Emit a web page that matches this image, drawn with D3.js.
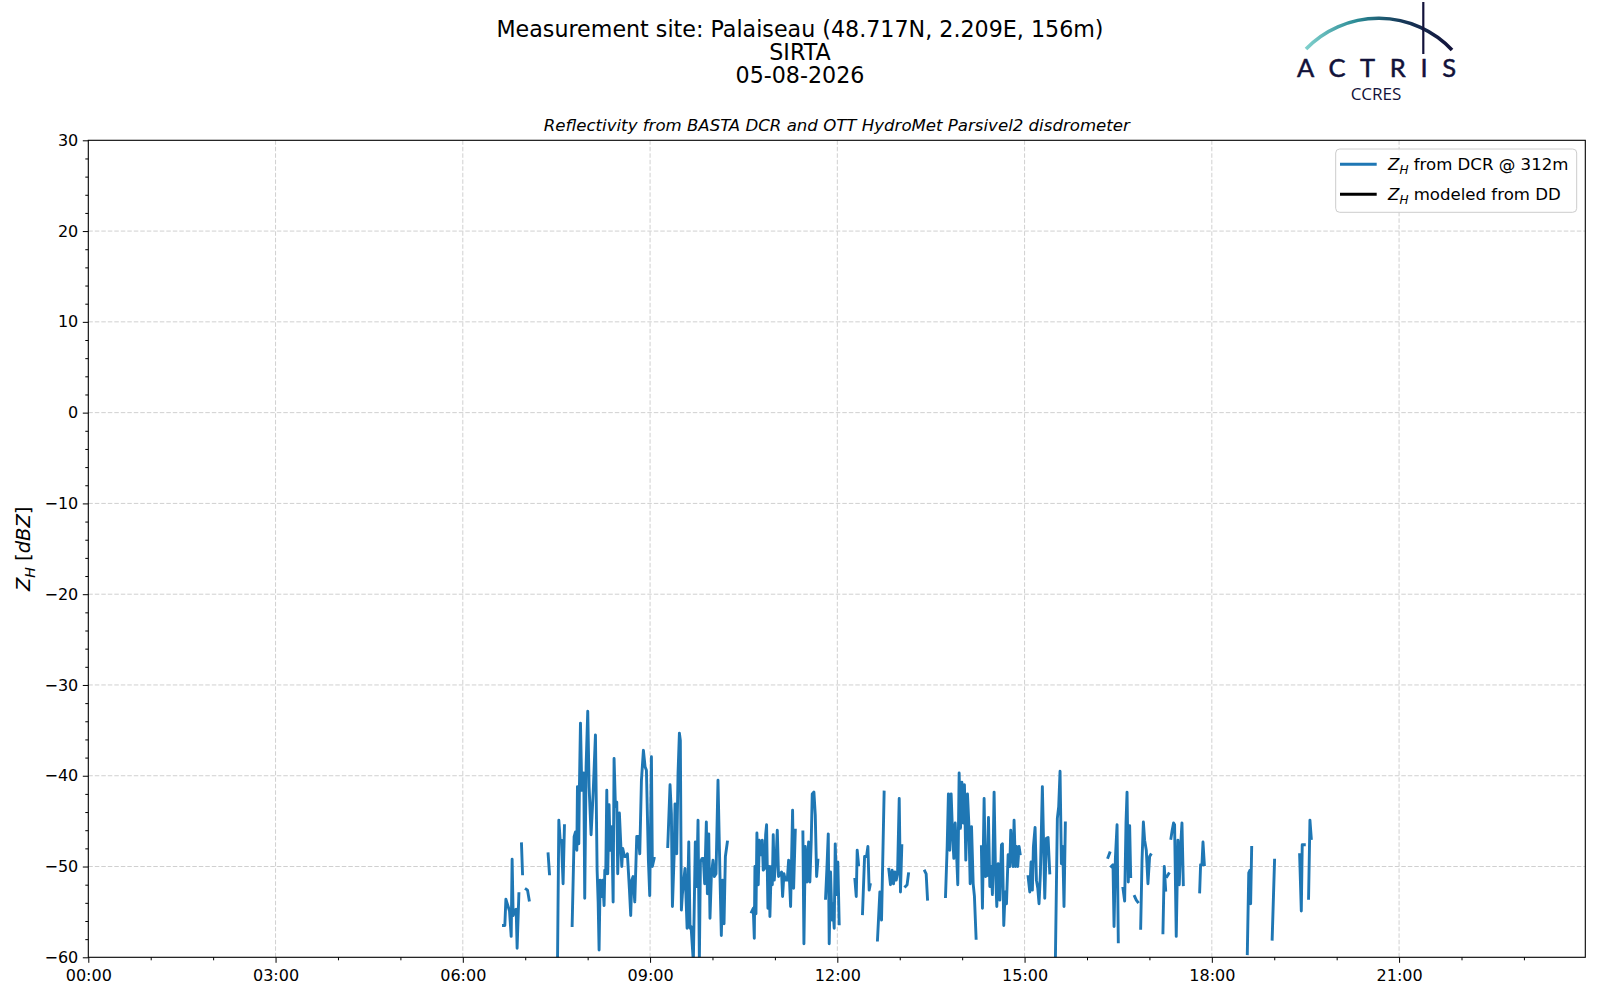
<!DOCTYPE html>
<html>
<head>
<meta charset="utf-8">
<script src="https://cdn.jsdelivr.net/npm/d3@7"></script>
<style>
  html, body { margin: 0; padding: 0; background: #ffffff; }
  svg { display: block; font-family: "DejaVu Sans", sans-serif; }
</style>
</head>
<body>
<svg id="chart" width="1600" height="1000"></svg>
<script>
// ---------------- DATA ----------------
const titleLines = ["Measurement site: Palaiseau (48.717N, 2.209E, 156m)", "SIRTA", "05-08-2026"];
const subtitle = "Reflectivity from BASTA DCR and OTT HydroMet Parsivel2 disdrometer";
const yDomain = [-60, 30];
const xDomainMin = [0, 1439];               // minutes since 00:00
const xTickMinutes = [0, 180, 360, 540, 720, 900, 1080, 1260];
const xTickLabels = ["00:00", "03:00", "06:00", "09:00", "12:00", "15:00", "18:00", "21:00"];
const yTickValues = [-60, -50, -40, -30, -20, -10, 0, 10, 20, 30];
const legendLabels = [["from DCR @ 312m"], ["modeled from DD"]];

// Z_H from DCR: time (minutes since midnight) and value (dBZ); null = gap
const timeMin = [
 399.1,400.4,401.4,404.9,406.5,407.4,408.4,410.0,411.3,412.2,413.9, null,
 416.4,417.4, null,
 420.9,422.2,423.8, null,
 442.0,443.3, null,
 451.0,452.3,453.6,454.8,456.4,457.7, null,
 465.1,467.0,468.3,469.6,470.2,471.5,472.1,473.1,474.4,475.3,476.3,477.2,478.5,480.1,481.4,483.3,485.3,487.5,489.1,490.1,491.0,492.0,493.3,494.5,495.8,496.5,497.4,498.4,499.3,500.6,501.6,503.2,504.5,505.4,506.7,508.0,508.9,510.5,512.8,513.7,515.4,517.0,518.2,520.2,521.4,522.4,523.7,525.3,527.2,528.8,530.1,531.7,533.6,535.2,536.5,538.4,539.7,541.3,542.2,543.9, null,
 557.0,559.2,560.5,561.5,563.1,564.0,565.6,566.9,568.2,569.1,570.1,571.1,573.6,575.6,577.2,578.4,579.4,581.6,583.5,584.8,586.1,587.4,588.4,590.0,591.2,592.5,594.1,595.1,596.4,597.6,598.9,600.5,601.8,603.4,605.3,607.3,608.5,609.8,611.1,612.4,614.3, null,
 637.6,639.2,640.2,640.8,641.8,642.7,644.0,645.0,646.6,647.9,648.8,650.1,651.1,652.0,653.3,654.3,655.2,656.5,657.5,658.4,659.4,660.4,661.3,662.3,663.5,664.8,666.4,667.4,668.7,670.0,671.9,673.2,675.1,677.0,678.0,679.6, null,
 686.9,687.9,689.2,690.8,692.4,693.6,694.9,695.9,697.5,698.8,700.1,701.3, null,
 708.7,710.0,711.3,712.2,713.5,714.8,715.7,717.0,718.0,719.3,720.5,721.8, null,
 736.9,738.2,739.1,740.4, null,
 744.2,746.2,748.1,749.4,750.6,751.6, null,
 758.6,760.9,762.5,765.0, null,
 769.5,771.1,772.7,774.0,775.3,776.6,777.9,779.5,780.7,782.0, null,
 785.5,787.1,788.4, null,
 804.1,805.4,806.7, null,
 824.0,825.6,826.8,828.1,829.4,830.7,832.0,833.3,834.5,835.8,837.1,838.4,839.7,841.0,842.2,843.5,845.1,846.4,847.7,849.0,850.6,851.8,853.4, null,
 858.5,859.5,861.1,862.4,864.0,865.3,866.6,867.8,869.1,870.7,872.0,873.3,874.6,876.2,877.8,878.7,880.0,881.3,882.6,884.2,885.8,886.7,887.7,889.0,889.9,891.2,892.2,893.4,894.7,895.7, null,
 903.4,905.0,906.2,907.5,908.5,910.1,911.4,912.7,913.9,915.2,917.1,919.4,921.0,922.6,924.2, null,
 929.6,931.5,932.8,934.1,935.4,936.7,937.9,939.2, null,
 980.2,981.8, null,
 983.4,985.0,986.0,987.3,988.9,990.1, null,
 994.6,996.2,997.5,998.5,999.7,1001.0,1002.0, null,
 1005.8,1007.4,1008.7, null,
 1011.6,1012.9,1014.2,1015.4,1017.0,1018.6,1020.2,1021.2, null,
 1033.0,1034.3,1035.6, null,
 1036.9,1038.5, null,
 1040.7,1041.9,1043.2,1044.2,1045.8,1047.4,1048.7,1050.0,1051.3,1052.6, null,
 1068.3,1069.2,1070.5,1071.5,1072.8, null,
 1114.1,1115.5,1116.7,1117.3,1118.3, null,
 1138.0,1140.3, null,
 1164.4,1166.0,1166.9,1168.9, null,
 1173.0,1174.3,1175.6
];
const zhDcr = [
 -56.5,-56.5,-53.6,-54.9,-57.7,-49.2,-55.4,-54.8,-54.7,-59.0,-53.0, null,
 -47.5,-50.8, null,
 -52.5,-52.6,-53.7, null,
 -48.6,-50.8, null,
 -61.0,-44.9,-47.1,-47.1,-51.9,-45.5, null,
 -56.5,-46.7,-46.2,-48.2,-41.2,-47.5,-41.2,-34.2,-41.6,-41.6,-39.7,-53.5,-39.0,-32.9,-41.2,-46.5,-41.9,-35.5,-50.4,-53.9,-59.2,-51.5,-53.3,-51.5,-54.3,-50.4,-50.8,-41.6,-50.8,-43.2,-48.2,-45.6,-53.9,-38.1,-43.4,-42.9,-50.8,-44.1,-50.0,-48.0,-48.9,-48.9,-48.6,-52.6,-55.4,-51.5,-51.1,-53.9,-46.7,-46.7,-48.6,-40.5,-37.2,-39.0,-39.4,-49.3,-53.2,-37.9,-50.0,-49.1, null,
 -47.8,-41.0,-44.2,-54.4,-48.9,-43.1,-48.6,-39.7,-35.3,-36.1,-54.8,-53.0,-50.2,-56.8,-47.3,-56.8,-56.6,-60.5,-47.3,-52.2,-44.9,-60.3,-49.5,-49.1,-49.1,-51.9,-45.1,-53.0,-46.4,-55.7,-51.1,-49.3,-51.1,-50.8,-40.5,-51.5,-57.6,-51.5,-56.3,-48.9,-47.3, null,
 -55.0,-54.6,-57.9,-50.0,-55.2,-46.3,-52.0,-47.1,-48.7,-47.1,-50.4,-50.2,-46.5,-45.4,-54.6,-50.0,-55.5,-50.0,-52.0,-46.5,-51.5,-50.0,-48.7,-46.0,-51.1,-50.9,-50.6,-53.3,-50.8,-51.5,-51.5,-49.3,-54.4,-43.8,-52.4,-46.0, null,
 -46.2,-58.5,-47.8,-51.7,-47.3,-51.7,-47.3,-42.0,-41.8,-44.3,-51.1,-49.3, null,
 -53.5,-50.2,-46.4,-58.5,-50.6,-55.9,-54.1,-56.8,-47.5,-53.1,-49.5,-56.3, null,
 -51.4,-53.3,-48.2,-49.8, null,
 -55.2,-48.9,-48.9,-47.8,-52.6,-52.0, null,
 -58.1,-52.8,-55.9,-41.8, null,
 -50.3,-52.0,-50.4,-51.9,-50.6,-51.5,-50.8,-42.5,-52.8,-47.7, null,
 -52.2,-52.0,-50.8, null,
 -50.5,-50.8,-53.6, null,
 -53.3,-47.8,-42.0,-48.2,-42.0,-46.2,-49.1,-45.2,-48.2,-52.0,-39.7,-45.8,-40.7,-45.2,-41.0,-49.3,-42.0,-45.2,-51.9,-45.6,-51.9,-53.3,-57.9, null,
 -47.8,-54.6,-42.5,-51.1,-51.0,-44.6,-52.2,-50.0,-53.1,-41.8,-50.4,-54.4,-49.7,-53.7,-47.6,-47.5,-56.5,-52.8,-54.1,-48.7,-50.0,-46.0,-48.2,-50.0,-44.9,-50.0,-47.8,-50.0,-47.8,-48.6, null,
 -51.1,-52.8,-49.5,-52.6,-47.8,-45.7,-51.5,-52.4,-54.1,-50.8,-41.2,-53.5,-46.9,-46.8,-50.7, null,
 -60.5,-44.7,-43.4,-39.5,-49.7,-47.8,-54.4,-45.2, null,
 -49.0,-48.5, null,
 -50.0,-49.8,-56.6,-49.1,-45.4,-58.3, null,
 -52.4,-53.8,-45.2,-41.8,-51.7,-45.5,-51.1, null,
 -53.3,-53.7,-53.9, null,
 -56.8,-49.3,-45.1,-47.1,-48.2,-51.9,-48.9,-48.7, null,
 -57.3,-50.0,-52.6, null,
 -51.1,-50.8, null,
 -46.9,-46.0,-45.2,-45.4,-57.7,-47.1,-52.0,-47.8,-45.2,-52.0, null,
 -52.8,-49.8,-49.8,-47.3,-49.8, null,
 -59.6,-50.7,-50.4,-54.1,-47.9, null,
 -58.0,-49.3, null,
 -48.7,-54.9,-47.6,-47.6, null,
 -53.5,-44.9,-46.9
];
// Z_H modeled from disdrometer (no valid points on this day)
const timeDD = [];
const zhDD = [];

// ---------------- LAYOUT ----------------
const svg = d3.select("#chart");
const pLeft = 88.3, pRight = 1585.3, pTop = 140.3, pBottom = 957.3;
const x = d3.scaleLinear().domain(xDomainMin).range([pLeft, pRight]);
const y = d3.scaleLinear().domain(yDomain).range([pBottom, pTop]);
const tickFont = 16;

svg.append("rect").attr("width", 1600).attr("height", 1000).attr("fill", "#fff");

// Titles
svg.append("g").selectAll("text").data(titleLines).join("text")
  .attr("x", 800).attr("y", (d, i) => 36.7 + i * 23)
  .attr("text-anchor", "middle").attr("font-size", 22.2).attr("fill", "#000")
  .text(d => d);

svg.append("text").attr("x", (pLeft + pRight) / 2).attr("y", 130.5)
  .attr("text-anchor", "middle").attr("font-size", 16.6).attr("font-style", "italic")
  .text(subtitle);

// Grid
const grid = svg.append("g").attr("stroke", "#d0d0d0").attr("stroke-width", 1).attr("stroke-dasharray", "4.5,2");
grid.selectAll(".gx").data(xTickMinutes.slice(1)).join("line")
  .attr("x1", d => x(d)).attr("x2", d => x(d)).attr("y1", pTop).attr("y2", pBottom);
grid.selectAll(".gy").data(yTickValues.slice(1, -1)).join("line")
  .attr("x1", pLeft).attr("x2", pRight).attr("y1", d => y(d)).attr("y2", d => y(d));

// Data line
svg.append("clipPath").attr("id", "clip").append("rect")
  .attr("x", pLeft).attr("y", pTop).attr("width", pRight - pLeft).attr("height", pBottom - pTop);
const pts = timeMin.map((t, i) => [t, zhDcr[i]]);
const line = d3.line().defined(d => d[0] != null && d[1] != null).x(d => x(d[0])).y(d => y(d[1]));
svg.append("path").datum(pts).attr("clip-path", "url(#clip)")
  .attr("fill", "none").attr("stroke", "#1f77b4").attr("stroke-width", 2.9)
  .attr("stroke-linejoin", "round").attr("stroke-linecap", "square").attr("d", line);
svg.append("path").datum(timeDD.map((t, i) => [t, zhDD[i]])).attr("clip-path", "url(#clip)")
  .attr("fill", "none").attr("stroke", "#000").attr("stroke-width", 2.9).attr("d", line);

// Axes
const fmtMinus = v => (v < 0 ? "\u2212" + Math.abs(v) : String(v));
const xAxis = d3.axisBottom(x).tickValues(xTickMinutes).tickFormat((d, i) => xTickLabels[i]).tickSize(5.5).tickPadding(6.5);
const xMinor = d3.axisBottom(x).tickValues(d3.range(60, 1440, 60).filter(m => m % 180 !== 0)).tickFormat("").tickSize(3);
const yAxis = d3.axisLeft(y).tickValues(yTickValues).tickFormat(fmtMinus).tickSize(5.5).tickPadding(4.5);
const yMinor = d3.axisLeft(y).tickValues(d3.range(-58, 30, 2).filter(v => v % 10 !== 0)).tickFormat("").tickSize(3);

function styleAxis(g) {
  g.select(".domain").remove();
  g.selectAll("line").attr("stroke", "#000").attr("stroke-width", 1);
  g.selectAll("text").attr("font-size", tickFont).attr("font-family", "DejaVu Sans").attr("fill", "#000");
}
svg.append("g").attr("transform", `translate(0,${pBottom})`).call(xAxis).call(styleAxis);
svg.append("g").attr("transform", `translate(0,${pBottom})`).call(xMinor).call(styleAxis);
svg.append("g").attr("transform", `translate(${pLeft},0)`).call(yAxis).call(styleAxis);
svg.append("g").attr("transform", `translate(${pLeft},0)`).call(yMinor).call(styleAxis);

// Frame
svg.append("rect").attr("x", pLeft).attr("y", pTop).attr("width", pRight - pLeft).attr("height", pBottom - pTop)
  .attr("fill", "none").attr("stroke", "#000").attr("stroke-width", 1.1);

// Y label
const yl = svg.append("text").attr("transform", `translate(30,${(pTop + pBottom) / 2}) rotate(-90)`)
  .attr("text-anchor", "middle").attr("font-size", 19.5);
yl.append("tspan").attr("font-style", "italic").text("Z");
yl.append("tspan").attr("font-style", "italic").attr("font-size", 14).attr("dy", 4.5).text("H");
yl.append("tspan").attr("dy", -4.5).text(" [");
yl.append("tspan").attr("font-style", "italic").text("dBZ");
yl.append("tspan").text("]");

// Legend
const lg = svg.append("g");
lg.append("rect").attr("x", 1335.7).attr("y", 149).attr("width", 241).attr("height", 63.3)
  .attr("rx", 4).attr("fill", "#fff").attr("fill-opacity", 0.8).attr("stroke", "#cccccc").attr("stroke-width", 1);
const legendColors = ["#1f77b4", "#000000"];
legendLabels.forEach((lab, i) => {
  const ly = 164.3 + i * 30;
  lg.append("line").attr("x1", 1340).attr("x2", 1376.7).attr("y1", ly).attr("y2", ly)
    .attr("stroke", legendColors[i]).attr("stroke-width", 2.9);
  const t = lg.append("text").attr("x", 1388).attr("y", ly + 5.8).attr("font-size", 16.6);
  t.append("tspan").attr("font-style", "italic").text("Z");
  t.append("tspan").attr("font-style", "italic").attr("font-size", 12).attr("dy", 3.8).text("H");
  t.append("tspan").attr("dy", -3.8).text(" " + lab[0]);
});

// Logo
const defs = svg.append("defs");
const grad = defs.append("linearGradient").attr("id", "arcGrad").attr("gradientUnits", "userSpaceOnUse")
  .attr("x1", 1306).attr("y1", 0).attr("x2", 1452).attr("y2", 0);
grad.append("stop").attr("offset", "0%").attr("stop-color", "#7fd0cc");
grad.append("stop").attr("offset", "35%").attr("stop-color", "#2a8a95");
grad.append("stop").attr("offset", "65%").attr("stop-color", "#173a5a");
grad.append("stop").attr("offset", "100%").attr("stop-color", "#12123a");
svg.append("path").attr("d", "M1306,49 A101,101 0 0 1 1452,50")
  .attr("fill", "none").attr("stroke", "url(#arcGrad)").attr("stroke-width", 3.6);
svg.append("line").attr("x1", 1423.3).attr("x2", 1423.3).attr("y1", 2).attr("y2", 54)
  .attr("stroke", "#12123a").attr("stroke-width", 2.2);
svg.append("text").attr("x", 1297).attr("y", 77.3).attr("textLength", 159).attr("lengthAdjust", "spacing")
  .attr("font-family", "Lato").attr("font-weight", 400).attr("font-size", 25.5)
  .attr("fill", "#12123a").attr("stroke", "#12123a").attr("stroke-width", 0.5).text("ACTRIS");
svg.append("text").attr("x", 1376).attr("y", 99.5).attr("text-anchor", "middle")
  .attr("font-family", "Open Sans").attr("font-size", 17).attr("fill", "#12123a").text("CCRES");
</script>
</body>
</html>
